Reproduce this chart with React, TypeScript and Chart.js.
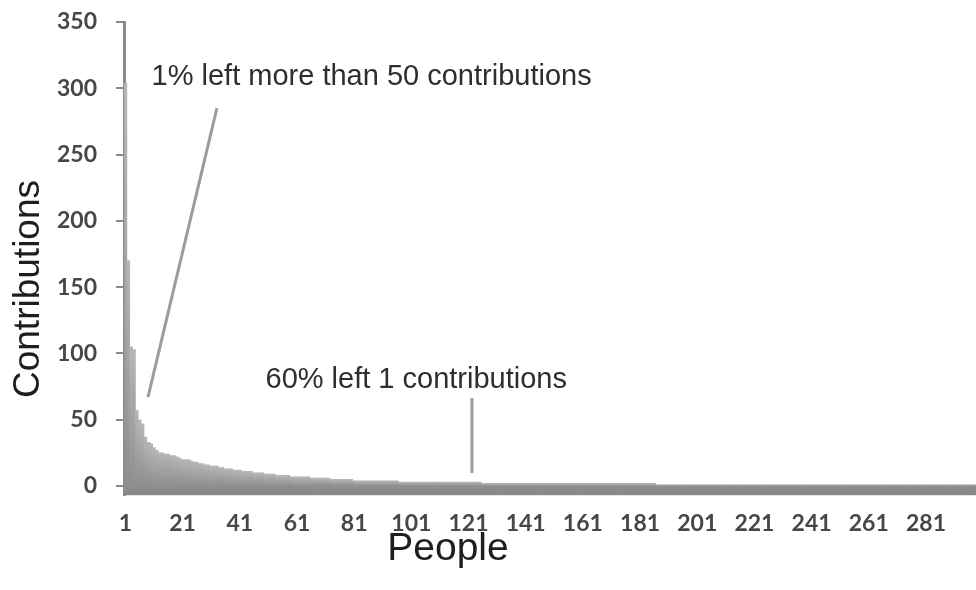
import React, { useEffect, useRef } from "react";
import { Chart, registerables } from "chart.js";

Chart.register(...registerables);

// Contributions per person, sorted descending
const contributions: number[] = [
  304, 170, 105, 103, 57, 50, 47, 37, 33, 32, 29, 27, 25, 25, 24, 24, 23, 23, 22, 21,
  20, 20, 20, 19, 18, 18, 17, 17, 16, 16, 15, 15, 15, 14, 14, 13, 13, 13, 12, 12,
  12, 11, 11, 11, 11, 10, 10, 10, 10, 9, 9, 9, 9, 8, 8, 8, 8, 8, 7, 7,
  7, 7, 7, 7, 7, 6, 6, 6, 6, 6, 6, 6, 5, 5, 5, 5, 5, 5, 5, 5,
  4, 4, 4, 4, 4, 4, 4, 4, 4, 4, 4, 4, 4, 4, 4, 4, 3, 3, 3, 3,
  3, 3, 3, 3, 3, 3, 3, 3, 3, 3, 3, 3, 3, 3, 3, 3, 3, 3, 3, 3,
  3, 3, 3, 3, 3, 2, 2, 2, 2, 2, 2, 2, 2, 2, 2, 2, 2, 2, 2, 2,
  2, 2, 2, 2, 2, 2, 2, 2, 2, 2, 2, 2, 2, 2, 2, 2, 2, 2, 2, 2,
  2, 2, 2, 2, 2, 2, 2, 2, 2, 2, 2, 2, 2, 2, 2, 2, 2, 2, 2, 2,
  2, 2, 2, 2, 2, 2, 1, 1, 1, 1, 1, 1, 1, 1, 1, 1, 1, 1, 1, 1,
  1, 1, 1, 1, 1, 1, 1, 1, 1, 1, 1, 1, 1, 1, 1, 1, 1, 1, 1, 1,
  1, 1, 1, 1, 1, 1, 1, 1, 1, 1, 1, 1, 1, 1, 1, 1, 1, 1, 1, 1,
  1, 1, 1, 1, 1, 1, 1, 1, 1, 1, 1, 1, 1, 1, 1, 1, 1, 1, 1, 1,
  1, 1, 1, 1, 1, 1, 1, 1, 1, 1, 1, 1, 1, 1, 1, 1, 1, 1, 1, 1,
  1, 1, 1, 1, 1, 1, 1, 1, 1, 1, 1, 1, 1, 1, 1, 1, 1, 1,
];

const people: string[] = contributions.map((_, i) => String(i + 1));

const xTickLabels = ["1", "21", "41", "61", "81", "101", "121", "141", "161", "181", "201", "221", "241", "261", "281"];
const yTicks = [0, 50, 100, 150, 200, 250, 300, 350];
const yMin = -7;
const yMax = 350;

const yTitle = "Contributions";
const xTitle = "People";

// annotations in data coordinates (category index, value)
const noteTexts = ["1% left more than 50 contributions", "60% left 1 contributions"];
const noteAnchors = [
  [9.64, 302.5],
  [49.5, 73.9],
];
const noteLines = [
  [[32.0, 285], [7.89, 67.1]],
  [[121.2, 66.4], [121.2, 9.8]],
];

const tickFont = { family: "Lato", size: 23, weight: "bold" };
const tickColor = "#474747";
const axisGray = "#8a8a8a";

const overlayPlugin = {
  id: "overlay",
  afterDatasetsDraw(chart: any) {
    const { ctx } = chart;
    const xs = chart.scales.x;
    const ys = chart.scales.y;
    ctx.save();
    ctx.strokeStyle = "#9c9c9c";
    ctx.lineWidth = 3;
    for (const ln of noteLines) {
      ctx.beginPath();
      ctx.moveTo(xs.getPixelForValue(ln[0][0]), ys.getPixelForValue(ln[0][1]));
      ctx.lineTo(xs.getPixelForValue(ln[1][0]), ys.getPixelForValue(ln[1][1]));
      ctx.stroke();
    }
    ctx.fillStyle = "#2e2e2e";
    ctx.font = "29px 'Liberation Sans', Arial, sans-serif";
    ctx.textAlign = "left";
    ctx.textBaseline = "alphabetic";
    noteTexts.forEach((t, i) => {
      const left = xs.getPixelForValue(noteAnchors[i][0]) - (xs.getPixelForValue(1) - xs.getPixelForValue(0)) / 2;
      ctx.fillText(t, left, ys.getPixelForValue(noteAnchors[i][1]));
    });

    // axis titles
    ctx.fillStyle = "#1e1e1e";
    ctx.textAlign = "center";
    ctx.font = "39px 'Liberation Sans', Arial, sans-serif";
    ctx.fillText(xTitle, 448, 560);
    ctx.save();
    ctx.font = "37px 'Liberation Sans', Arial, sans-serif";
    ctx.translate(39, 289);
    ctx.rotate(-Math.PI / 2);
    ctx.fillText(yTitle, 0, 0);
    ctx.restore();
    ctx.restore();
  },
};

export default function App() {
  const canvasRef = useRef<HTMLCanvasElement | null>(null);

  useEffect(() => {
    document.body.style.margin = "0";
    const canvas = canvasRef.current;
    if (!canvas) return;
    const chart = new Chart(canvas, {
      type: "bar",
      data: {
        labels: people,
        datasets: [
          {
            data: contributions,
            base: yMin,
            barPercentage: 1,
            categoryPercentage: 1,
            borderWidth: 0,
            backgroundColor: (c: any) => {
              const ch = c.chart;
              if (c.type !== "data" || !ch.chartArea) return "#999999";
              const ys = ch.scales.y;
              const v = contributions[c.dataIndex];
              const top = ys.getPixelForValue(v);
              const zero = ys.getPixelForValue(0);
              const bottom = ys.getPixelForValue(yMin);
              const g = ch.ctx.createLinearGradient(0, top, 0, bottom);
              g.addColorStop(0, "#b6b6b6");
              const f = Math.max(0.01, Math.min(0.99, (zero - top) / (bottom - top)));
              g.addColorStop(f, "#8e8e8e");
              g.addColorStop(1, "#868686");
              return g;
            },
          } as any,
        ],
      },
      options: {
        responsive: false,
        maintainAspectRatio: false,
        animation: false,
        events: [],
        layout: { padding: { top: 22, left: 0, right: 0, bottom: 0 } },
        plugins: {
          legend: { display: false },
          tooltip: { enabled: false },
        },
        scales: {
          x: {
            type: "category",
            offset: true,
            grid: { display: false, drawTicks: false },
            border: { display: false },
            ticks: {
              autoSkip: false,
              maxRotation: 0,
              minRotation: 0,
              padding: 14,
              color: tickColor,
              font: tickFont,
              callback: (_v: any, idx: number) => (xTickLabels.includes(people[idx]) ? people[idx] : ""),
            },
            afterFit: (s: any) => {
              s.height = 590 - 495.3;
              s.paddingLeft = 0;
              s.paddingRight = 0;
            },
          },
          y: {
            min: yMin,
            max: yMax,
            afterBuildTicks: (s: any) => {
              s.ticks = yTicks.map((v) => ({ value: v }));
            },
            grid: { drawOnChartArea: false, drawTicks: true, tickLength: 8, color: axisGray, lineWidth: 2 },
            border: { display: true, color: axisGray, width: 3 },
            ticks: { padding: 19, color: tickColor, font: tickFont },
            afterFit: (s: any) => {
              s.width = 124;
              s.paddingTop = 0;
              s.paddingBottom = 0;
            },
          },
        },
      } as any,
      plugins: [overlayPlugin],
    });
    return () => chart.destroy();
  }, []);

  return (
    <div style={{ position: "absolute", left: 0, top: 0, width: 976, height: 590, background: "#ffffff" }}>
      <canvas ref={canvasRef} width={976} height={590} style={{ display: "block", width: 976, height: 590 }} />
    </div>
  );
}
